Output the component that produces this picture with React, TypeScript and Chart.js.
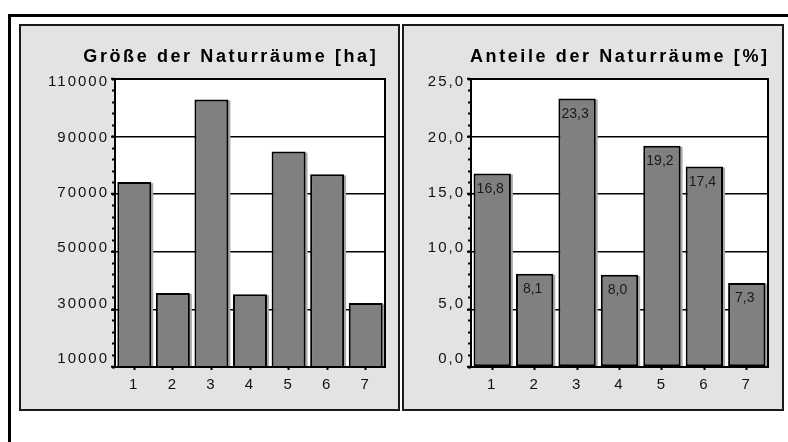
import React, { useEffect, useRef } from 'react';
import { Chart, registerables } from 'chart.js';

Chart.register(...registerables);

const categories = ['1', '2', '3', '4', '5', '6', '7'];
const areaHa = [74200, 35700, 102900, 35300, 84800, 76900, 32200];
const sharePct = [16.8, 8.1, 23.3, 8.0, 19.2, 17.4, 7.3];
const leftTitle = 'Größe der Naturräume [ha]';
const rightTitle = 'Anteile der Naturräume [%]';
const areaTicks = [10000, 30000, 50000, 70000, 90000, 110000];
const shareTicks = [0, 5, 10, 15, 20, 25];
const areaAxis = { min: 10000, max: 110000, step: 20000, minorStep: 4000 };
const shareAxis = { min: 0, max: 25, step: 5, minorStep: 1 };

const FONT = '"Liberation Sans", Arial, Helvetica, sans-serif';

type AxisSpec = { min: number; max: number; step: number; minorStep: number };

interface PanelSpec {
  values: number[];
  title: string;
  axis: AxisSpec;
  tickValues: number[];
  fmt: (v: number) => string;
  width: number;
  height: number;
  yWidth: number;
  padTop: number;
  padRight: number;
  titleCenter: number;
  titleBaseline: number;
  showLabels: boolean;
  labelFmt: (v: number) => string;
}

// label compression: tick labels sit slightly inside the axis ends (pixels)
const LABEL_INSET_TOP = 3;
const LABEL_INSET_BOTTOM = 8;
const PLOT_H = 288;

function buildChart(canvas: HTMLCanvasElement, spec: PanelSpec) {
  const { min, max } = spec.axis;
  const usable = PLOT_H - LABEL_INSET_TOP - LABEL_INSET_BOTTOM;
  const range = ((max - min) * PLOT_H) / usable;
  const labelMin = min - (LABEL_INSET_BOTTOM / PLOT_H) * range;
  const labelMax = labelMin + range;

  const plugin = {
    id: 'panelDeco',
    beforeDraw(chart: any) {
      const { ctx, chartArea: a } = chart;
      ctx.save();
      ctx.fillStyle = '#ffffff';
      ctx.fillRect(a.left, a.top, a.right - a.left, a.bottom - a.top);
      ctx.restore();
      ctx.letterSpacing = '2px';
    },
    beforeDatasetsDraw(chart: any) {
      const { ctx } = chart;
      ctx.letterSpacing = '0px';
      const meta = chart.getDatasetMeta(0);
      const a = chart.chartArea;
      ctx.save();
      ctx.beginPath();
      ctx.rect(a.left, a.top, a.right - a.left + 4, a.bottom - a.top);
      ctx.clip();
      ctx.fillStyle = '#a9a9a9';
      meta.data.forEach((bar: any) => {
        const p = bar.getProps(['x', 'y', 'width', 'base'], true);
        const left = p.x - p.width / 2 + 2;
        ctx.fillRect(left, p.y + 1, p.width, Math.min(p.base, a.bottom) - p.y - 1);
      });
      ctx.restore();
    },
    afterDatasetsDraw(chart: any) {
      const { ctx, chartArea: a } = chart;
      ctx.save();
      ctx.strokeStyle = '#000';
      ctx.lineWidth = 2;
      ctx.strokeRect(a.left, a.top, a.right - a.left, a.bottom - a.top);
      ctx.restore();
      if (spec.showLabels) {
        const meta = chart.getDatasetMeta(0);
        ctx.save();
        ctx.letterSpacing = '0px';
        ctx.font = `14px ${FONT}`;
        ctx.fillStyle = '#1a1a1a';
        ctx.textAlign = 'center';
        ctx.textBaseline = 'alphabetic';
        meta.data.forEach((bar: any, i: number) => {
          const p = bar.getProps(['x', 'y'], true);
          ctx.fillText(spec.labelFmt(spec.values[i]), p.x - 2, p.y + 19.5);
        });
        ctx.restore();
      }
    },
    afterDraw(chart: any) {
      const { ctx } = chart;
      ctx.save();
      const sp = 2.6;
      ctx.letterSpacing = `${sp}px`;
      ctx.font = `bold 18px ${FONT}`;
      ctx.fillStyle = '#000';
      ctx.textAlign = 'left';
      ctx.textBaseline = 'alphabetic';
      const w = ctx.measureText(spec.title).width - sp;
      ctx.fillText(spec.title, spec.titleCenter - w / 2, spec.titleBaseline);
      ctx.restore();
      ctx.letterSpacing = '0px';
    },
  };

  const tickFont = { family: FONT, size: 15 };

  return new Chart(canvas, {
    type: 'bar',
    data: {
      labels: categories,
      datasets: [
        {
          data: spec.values,
          xAxisID: 'x',
          yAxisID: 'y',
          backgroundColor: '#808080',
          borderColor: '#000000',
          borderWidth: 2,
          borderSkipped: false,
          barPercentage: 0.88,
          categoryPercentage: 1,
          clip: 0,
        } as any,
      ],
    },
    options: {
      responsive: false,
      maintainAspectRatio: false,
      animation: false,
      devicePixelRatio: 1,
      layout: { padding: { top: spec.padTop, right: spec.padRight, left: 0, bottom: 0 } },
      plugins: {
        legend: { display: false },
        tooltip: { enabled: false },
        title: { display: false },
      },
      scales: {
        x: {
          type: 'category',
          position: 'bottom',
          offset: true,
          afterFit: (s: any) => {
            s.height = 42;
          },
          grid: {
            offset: false,
            drawOnChartArea: false,
            tickLength: 3,
            tickWidth: 2,
            color: '#000',
          },
          border: { display: true, color: '#000', width: 2 },
          ticks: { font: tickFont, color: '#111', padding: 6, maxRotation: 0, autoSkip: false },
        },
        y: {
          type: 'linear',
          position: 'left',
          weight: 1,
          min,
          max,
          afterFit: (s: any) => {
            s.width = 0;
          },
          ticks: { display: false, stepSize: spec.axis.step },
          grid: {
            color: '#000',
            lineWidth: 1.5,
            tickLength: 4,
            tickWidth: 2,
            drawOnChartArea: true,
          },
          border: { display: true, color: '#000', width: 2 },
        },
        yLabels: {
          type: 'linear',
          position: 'left',
          weight: 2,
          min: labelMin,
          max: labelMax,
          afterFit: (s: any) => {
            s.width = spec.yWidth;
          },
          afterBuildTicks: (s: any) => {
            s.ticks = spec.tickValues.map((v) => ({ value: v }));
          },
          ticks: {
            callback: (v: any) => spec.fmt(Number(v)),
            font: tickFont,
            color: '#111',
            padding: 6,
          },
          grid: { display: false, drawTicks: false },
          border: { display: false },
        },
        yMinor: {
          type: 'linear',
          position: 'left',
          weight: 0,
          min,
          max,
          afterFit: (s: any) => {
            s.width = 0;
          },
          ticks: { display: false, stepSize: spec.axis.minorStep },
          grid: {
            drawOnChartArea: false,
            tickLength: 3,
            tickWidth: 2,
            color: '#000',
          },
          border: { display: false },
        },
      },
    } as any,
    plugins: [plugin],
  });
}

function ChartPanel({ spec, style }: { spec: PanelSpec; style: React.CSSProperties }) {
  const ref = useRef<HTMLCanvasElement | null>(null);
  useEffect(() => {
    if (!ref.current) return;
    const chart = buildChart(ref.current, spec);
    return () => chart.destroy();
  }, []);
  return (
    <div
      style={{
        position: 'absolute',
        boxSizing: 'border-box',
        border: '2px solid #1a1a1a',
        background: '#e3e3e3',
        ...style,
      }}
    >
      <canvas
        ref={ref}
        width={spec.width}
        height={spec.height}
        style={{ display: 'block', width: spec.width, height: spec.height }}
      />
    </div>
  );
}

const leftSpec: PanelSpec = {
  values: areaHa,
  title: leftTitle,
  axis: areaAxis,
  tickValues: areaTicks,
  fmt: (v) => String(v),
  width: 377,
  height: 383,
  yWidth: 94,
  padTop: 53,
  padRight: 13,
  titleCenter: 208.5,
  titleBaseline: 36,
  showLabels: false,
  labelFmt: (v) => String(v),
};

const rightSpec: PanelSpec = {
  values: sharePct,
  title: rightTitle,
  axis: shareAxis,
  tickValues: shareTicks,
  fmt: (v) => v.toFixed(1).replace('.', ','),
  width: 378,
  height: 383,
  yWidth: 67,
  padTop: 53,
  padRight: 14,
  titleCenter: 214.5,
  titleBaseline: 36,
  showLabels: true,
  labelFmt: (v) => v.toFixed(1).replace('.', ','),
};

export default function App() {
  return (
    <div
      style={{
        position: 'absolute',
        left: 0,
        top: 0,
        width: 788,
        height: 442,
        overflow: 'hidden',
        background: '#fff',
      }}
    >
      <div
        style={{
          position: 'absolute',
          left: 8,
          top: 14,
          width: 800,
          height: 460,
          boxSizing: 'border-box',
          borderTop: '3px solid #000',
          borderLeft: '3px solid #000',
        }}
      />
      <ChartPanel spec={leftSpec} style={{ left: 19, top: 24, width: 381, height: 387 }} />
      <ChartPanel spec={rightSpec} style={{ left: 402, top: 24, width: 382, height: 387 }} />
    </div>
  );
}
